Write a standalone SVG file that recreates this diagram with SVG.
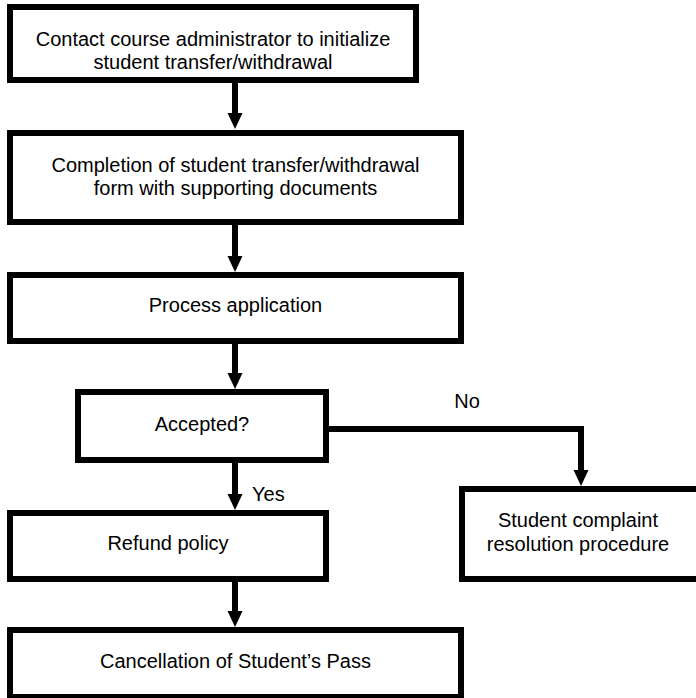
<svg xmlns="http://www.w3.org/2000/svg" width="696" height="698" viewBox="0 0 696 698">
  <style>
    .box { fill: #ffffff; stroke: #000000; stroke-width: 6; }
    .lbl { font-family: "Liberation Sans", Arial, sans-serif; font-size: 20px; fill: #000000; text-anchor: middle; }
    .conn { fill: none; stroke: #000000; stroke-width: 6; marker-end: url(#arrow); }
  </style>
  <defs>
    <marker id="arrow" markerUnits="userSpaceOnUse" markerWidth="16" markerHeight="16" refX="0" refY="7.5" orient="auto" viewBox="0 0 16 15" overflow="visible">
      <path d="M0,0 L16,7.5 L0,15 Z" fill="#000000"/>
    </marker>
  </defs>
  <rect width="696" height="698" fill="#ffffff"/>

  <g id="connectors">
    <path class="conn" d="M235,83 V113"/>
    <path class="conn" d="M235,225 V256"/>
    <path class="conn" d="M235,344 V373"/>
    <path class="conn" d="M235,463 V494"/>
    <path class="conn" d="M235,582 V611"/>
    <path class="conn" d="M329,429 H581 V470"/>
    <text class="lbl" x="467" y="408">No</text>
    <text class="lbl" x="252" y="501" style="text-anchor:start">Yes</text>
  </g>

  <g id="node-contact">
    <rect class="box" x="10" y="7" width="406" height="73"/>
    <text class="lbl" x="213" y="46">Contact course administrator to initialize</text>
    <text class="lbl" x="213" y="69">student transfer/withdrawal</text>
  </g>

  <g id="node-completion">
    <rect class="box" x="10" y="133" width="451" height="89"/>
    <text class="lbl" x="235.5" y="172">Completion of student transfer/withdrawal</text>
    <text class="lbl" x="235.5" y="195">form with supporting documents</text>
  </g>

  <g id="node-process">
    <rect class="box" x="10" y="275" width="451" height="66"/>
    <text class="lbl" x="235.5" y="312">Process application</text>
  </g>

  <g id="node-accepted">
    <rect class="box" x="78" y="392" width="248" height="68"/>
    <text class="lbl" x="202" y="431">Accepted?</text>
  </g>

  <g id="node-complaint">
    <rect class="box" x="462" y="489" width="240" height="90"/>
    <text class="lbl" x="578" y="527">Student complaint</text>
    <text class="lbl" x="578" y="551">resolution procedure</text>
  </g>

  <g id="node-refund">
    <rect class="box" x="10" y="513" width="316" height="66"/>
    <text class="lbl" x="168" y="550">Refund policy</text>
  </g>

  <g id="node-cancellation">
    <rect class="box" x="10" y="630" width="451" height="67"/>
    <text class="lbl" x="235.5" y="668">Cancellation of Student’s Pass</text>
  </g>
</svg>
